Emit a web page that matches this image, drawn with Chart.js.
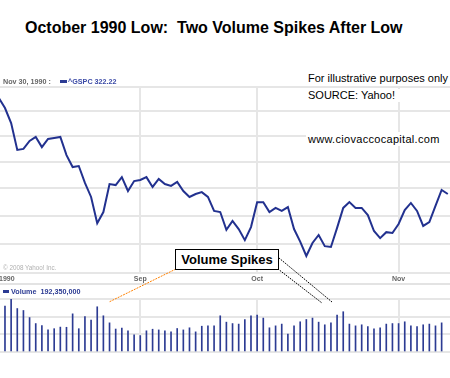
<!DOCTYPE html>
<html>
<head>
<meta charset="utf-8">
<script src="https://cdn.jsdelivr.net/npm/chart.js@4"></script>
<style>
body { margin: 0; background: #fff; }
#wrap { position: relative; width: 450px; height: 378px; overflow: hidden; background: #fff; font-family: "Liberation Sans", Arial, sans-serif; }
.t { position: absolute; white-space: nowrap; }
canvas { position: absolute; left: 0; }
.note { font-size: 11px; line-height: 13px; color: #000; background: #fff; }
.small { font-size: 7.2px; line-height: 9px; font-weight: bold; }
</style>
</head>
<body>
<div id="wrap">
  <div class="t" style="left:25px;top:19px;font-size:16px;line-height:18px;font-weight:bold;color:#000">October 1990 Low:&nbsp; Two Volume Spikes After Low</div>

  <canvas id="price" width="450" height="206" style="top:80px"></canvas>
  <canvas id="vol" width="450" height="96" style="top:282px"></canvas>
  <div style="position:absolute;left:0;top:283px;width:450px;height:2px;background:#e3e3e3"></div>

  <div class="t small" style="left:3px;top:77px;color:#666">Nov 30, 1990 :</div>
  <div style="position:absolute;left:60px;top:80px;width:7px;height:3px;background:#2c3b93"></div>
  <div class="t small" style="left:68px;top:77px;color:#3b4aa6">^GSPC 322.22</div>

  <div class="t small" style="left:3px;top:287px;color:#2c3b93"><span style="display:inline-block;width:6px;height:3px;background:#2c3b93;vertical-align:1px;margin-right:2px"></span>Volume&nbsp; 192,350,000</div>

  <div class="t" style="left:3px;top:264px;font-size:6.3px;color:#b0b0b0">© 2008 Yahoo! Inc.</div>

  <div class="t note" style="left:308px;top:72px;width:142px">For illustrative purposes only</div>
  <div class="t note" style="left:306px;top:89px;width:144px;padding-left:2px">SOURCE: Yahoo!</div>
  <div class="t note" style="left:306px;top:132px;width:144px;padding-left:2px;line-height:14px;letter-spacing:0.3px">www.ciovaccocapital.com</div>

  <svg style="position:absolute;left:0;top:0" width="450" height="378">
    <line x1="176" y1="269" x2="109" y2="302" stroke="#ff8000" stroke-width="1" stroke-dasharray="2,1"/>
    <line x1="279" y1="258" x2="332" y2="302" stroke="#000" stroke-width="1" stroke-dasharray="1.5,1"/>
    <line x1="278" y1="269" x2="322" y2="303" stroke="#000" stroke-width="1" stroke-dasharray="1.5,1"/>
  </svg>
  <div class="t" style="left:175px;top:249px;width:104px;height:21px;box-sizing:border-box;border:1px solid #000;background:#fff;font-size:13px;line-height:19px;font-weight:bold;text-align:center;color:#000">Volume Spikes</div>
</div>

<script>
// S&P 500 daily closes, Aug 1 - Nov 13 1990 (first close sits one day left of the first volume bar)
const priceStart = -1;
const closes = [
  355.4, 351.3, 345.2, 334.6, 335.0, 338.1, 339.7, 335.7, 338.9, 339.3,
  339.7, 332.6, 328.0, 328.4, 322.0, 316.8, 307.3, 311.3, 321.6, 321.2,
  324.2, 319.0, 322.7, 323.1, 324.2, 320.5, 323.5, 321.6, 320.9, 322.4,
  319.0, 316.8, 317.9, 318.6, 316.8, 311.7, 311.3, 304.9, 308.1, 305.2,
  301.3, 305.9, 314.9, 314.9, 311.3, 312.8, 311.7, 313.1, 305.2, 300.8,
  295.8, 300.3, 303.1, 299.2, 298.9, 305.6, 312.8, 314.9, 312.8, 312.8,
  310.2, 304.5, 302.0, 304.1, 303.8, 307.0, 312.0, 314.6, 311.7, 306.3,
  307.7, 313.5, 319.4, 317.9
];
// daily volume, millions of shares, Aug 2 onward
const volumes = [
  260, 300, 246, 235, 195, 161, 149, 125, 132, 141,
  140, 216, 132, 200, 181, 256, 205, 165, 130, 135,
  120, 97, 93, 120, 129, 125, 120, 114, 133, 125,
  137, 114, 146, 148, 148, 205, 169, 161, 158, 184,
  205, 209, 192, 137, 148, 158, 102, 148, 171, 184,
  192, 169, 154, 165, 209, 228, 158, 148, 154, 144,
  131, 137, 158, 161, 161, 171, 148, 144, 154, 158,
  148, 165
];
const monthTicks = [0.3, 22, 41, 64];
const monthLabels = ['1990', 'Sep', 'Oct', 'Nov'];
const priceGrid = [290, 300, 310, 320, 330, 340, 350, 360];
const volumeGrid = [0, 100, 200, 300];

const gridColor = '#e6e6e6';

function xAxis(showLabels, height) {
  return {
    type: 'linear',
    min: -0.81,
    max: 72.36,
    offset: false,
    afterBuildTicks: s => { s.ticks = monthTicks.map(v => ({ value: v })); },
    afterFit: s => { s.height = height; s.paddingLeft = 0; s.paddingRight = 0; },
    grid: {
      offset: false,
      // the year label has no vertical line of its own
      color: c => (c.index === 0) ? 'rgba(0,0,0,0)' : gridColor,
      lineWidth: 2,
      drawTicks: false
    },
    border: { display: false },
    ticks: {
      display: showLabels,
      autoSkip: false,
      maxRotation: 0,
      padding: 2,
      color: '#666',
      font: { family: 'Liberation Sans', size: 7, weight: 'bold' },
      callback: (v, i) => monthLabels[i]
    }
  };
}

function yAxis(type, min, max, ticks) {
  return {
    type: type,
    min: min,
    max: max,
    afterBuildTicks: s => { s.ticks = ticks.map(v => ({ value: v })); },
    afterFit: s => { s.width = 0; },
    grid: { color: gridColor, lineWidth: 2, drawTicks: false },
    border: { display: false },
    ticks: { display: false }
  };
}

const common = {
  responsive: false,
  animation: false,
  devicePixelRatio: 1,
  events: [],
  plugins: { legend: { display: false }, tooltip: { enabled: false } }
};

new Chart(document.getElementById('price').getContext('2d'), {
  type: 'line',
  data: {
    datasets: [{
      label: '^GSPC',
      data: closes.map((c, i) => ({ x: i + priceStart, y: c })),
      borderColor: '#22318f',
      borderWidth: 2,
      pointRadius: 0,
      tension: 0,
      fill: false
    }]
  },
  options: Object.assign({}, common, {
    layout: { padding: { top: 7, left: 0, right: 0, bottom: 0 } },
    scales: {
      x: xAxis(true, 13),
      y: yAxis('logarithmic', 290, 360, priceGrid)
    }
  })
});

new Chart(document.getElementById('vol').getContext('2d'), {
  type: 'bar',
  data: {
    datasets: [{
      label: 'Volume',
      data: volumes.map((v, i) => ({ x: i, y: v })),
      backgroundColor: '#2c3b93',
      barThickness: 1
    }]
  },
  options: Object.assign({}, common, {
    layout: { padding: { top: 17, left: 0, right: 0, bottom: 0 } },
    scales: {
      x: xAxis(false, 26),
      y: yAxis('linear', 0, 300, volumeGrid)
    }
  })
});
</script>
</body>
</html>
